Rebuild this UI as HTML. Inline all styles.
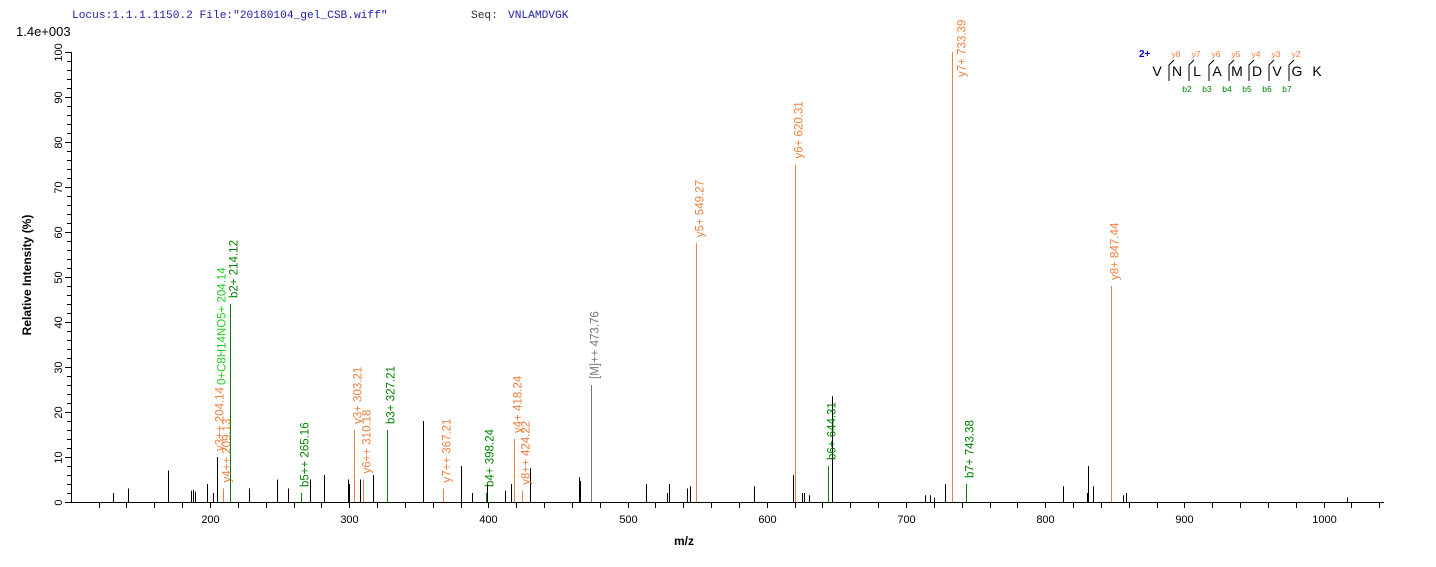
<!DOCTYPE html>
<html><head><meta charset="utf-8"><style>
body{margin:0;background:#fff;}
svg text{font-family:"Liberation Sans",Arial,sans-serif;}
svg text.mono{font-family:"Liberation Mono",monospace;}
</style></head><body>
<svg width="1436" height="562" xmlns="http://www.w3.org/2000/svg">
<text class="mono" x="72" y="18" font-size="11.2" fill="#2222aa">Locus:1.1.1.1150.2 File:"20180104_gel_CSB.wiff"</text>
<text class="mono" x="471" y="18" font-size="11.2" fill="#333">Seq:</text>
<text class="mono" x="508" y="18" font-size="11.2" fill="#2222aa">VNLAMDVGK</text>
<text x="16" y="36" font-size="13" fill="#000">1.4e+003</text>
<text transform="translate(31,275) rotate(-90)" text-anchor="middle" font-size="12" font-weight="bold">Relative   Intensity (%)</text>
<text x="684" y="545" text-anchor="middle" font-size="12" font-weight="bold">m/z</text>
<g id="ax" stroke="#000" stroke-width="1"></g>
<g id="pk"></g>
</svg>
<script>
const ns="http://www.w3.org/2000/svg";
const X=m=>210+(m-200)*1.392, Y=p=>502-4.5*p;
const ax=document.getElementById('ax'),pk=document.getElementById('pk'),svg=document.querySelector('svg');
function el(t,a,p){const e=document.createElementNS(ns,t);for(const k in a)e.setAttribute(k,a[k]);(p||svg).appendChild(e);return e;}
el('line',{x1:71,y1:502.5,x2:1384,y2:502.5},ax);
el('line',{x1:71.5,y1:502,x2:71.5,y2:52},ax);
for(let m=120;m<=1040;m+=20){const x=Math.round(X(m))+.5;el('line',{x1:x,y1:502,x2:x,y2:508},ax);
 if(m%100==0){const t=el('text',{x:x,y:523,'text-anchor':'middle','font-size':11,stroke:'none'});t.textContent=m;}}
for(let p=0;p<=100;p+=2){const y=Math.round(Y(p))+.5;el('line',{x1:p%10==0?65:67,y1:y,x2:71,y2:y},ax);
 if(p%10==0){const t=el('text',{transform:`translate(62,${y}) rotate(-90)`,'text-anchor':'middle','font-size':11,stroke:'none'});t.textContent=p;}}
const blk=[[130,2],[141,3],[170,7],[186,2.5],[188,2.7],[189,2.3],[198,4],[202,2],[205,10],[228,3],[248,5],[256,3],[272,5],[282,6],[299,5],[300,4],[308,5],[317,6],[353,18],[380,8],[388,2],[399,4],[412,2.5],[416,4],[430,7.5],[465,5.5],[465.6,4.7],[513,4],[528,2],[530,4],[543,3],[545,3.5],[591,3.5],[619,6],[625,2],[627,2],[630,1.5],[647,23.5],[714,1.5],[717,1.5],[720,1],[728,4],[813,3.5],[830,2],[831,8],[834,3.5],[856,1.5],[858,2],[1017,1]];
blk.forEach(([m,p])=>{const x=Math.round(X(m))+.5;el('line',{x1:x,y1:502,x2:x,y2:Y(p),stroke:'#000'},pk);});
const O='#f07f3f',G='#008000',LG='#22cc22',GR='#777';
const lab=[[209.13,3,O,'y4++ 209.13'],[204.6,10,O,'y3++ 204.14',1],[214.12,44,G,'b2+ 214.12'],[265.16,2,G,'b5++ 265.16'],[303.21,16,O,'y3+ 303.21'],[310.18,5,O,'y6++ 310.18'],[327.21,16,G,'b3+ 327.21'],[367.21,3,O,'y7++ 367.21'],[398.24,2,G,'b4+ 398.24'],[418.24,14,O,'y4+ 418.24'],[424.22,2.5,O,'y8++ 424.22'],[473.76,26,GR,'[M]++ 473.76'],[549.27,57.5,O,'y5+ 549.27'],[620.31,75,O,'y6+ 620.31'],[644.31,8,G,'b6+ 644.31'],[733.39,100,O,'y7+ 733.39'],[743.38,4,G,'b7+ 743.38'],[847.44,48,O,'y8+ 847.44']];
lab.forEach(([m,p,c,t,nol])=>{const x=Math.round(X(m))+.5;if(!nol)el('line',{x1:x,y1:502,x2:x,y2:Y(p),stroke:c},pk);
 const len=t.length*6.2;let y0=Y(p)-6,dx=7;if(y0<15+len){y0=15+len;dx=13;}
 const e=el('text',{transform:`translate(${x+dx},${y0}) rotate(-90)`,'font-size':11.5,fill:c},pk);e.textContent=t;});
{const x=X(214.12)-9;const e=el('text',{transform:`translate(${x+5},${Y(26)}) rotate(-90)`,'font-size':11.5,fill:LG},pk);e.textContent='0+C8H14NO5+ 204.14';}
// sequence
const sq='VNLAMDVGK',sx=1157;
el('text',{x:1139,y:57,'font-size':10,'font-weight':'bold',fill:'#0000cc'}).textContent='2+';
for(let i=0;i<9;i++){el('text',{x:sx+i*20,y:76,'font-size':14,'text-anchor':'middle',fill:'#000'}).textContent=sq[i];}
for(let i=0;i<7;i++){const x=sx+i*20+12;
 el('path',{d:`M${x},${81} L${x},${65} L${x+5},${60}`,stroke:'#000',fill:'none','stroke-width':1});
 el('text',{x:x+7,y:57,'font-size':8.5,fill:O,'text-anchor':'middle'}).textContent='y'+(8-i);
 if(i>0)el('text',{x:x-2,y:92,'font-size':8.5,fill:G,'text-anchor':'middle'}).textContent='b'+(i+1);}
</script>
</body></html>
